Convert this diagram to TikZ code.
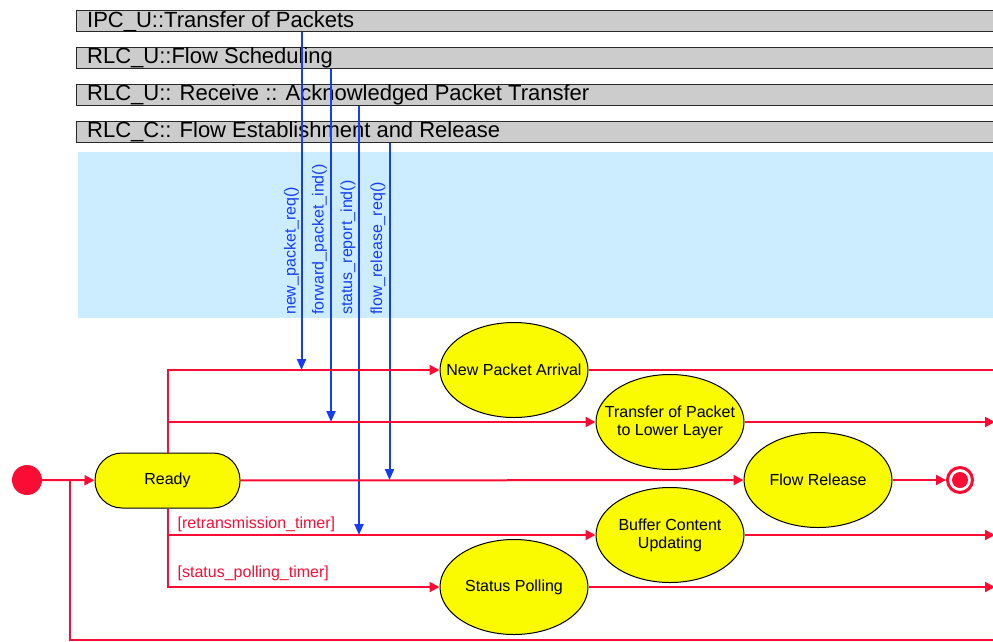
\documentclass[tikz,border=0pt]{standalone}
\usepackage{fontspec}
\setmainfont{Liberation Sans}
\usetikzlibrary{shapes.geometric,arrows.meta}
\definecolor{umlred}{RGB}{250,12,52}
\definecolor{sigblue}{RGB}{22,62,240}
\definecolor{bargray}{RGB}{204,204,204}
\definecolor{barline}{RGB}{40,40,40}
\definecolor{regionblue}{RGB}{204,236,255}
\definecolor{stateyellow}{RGB}{250,250,0}

\begin{document}
\begin{tikzpicture}[x=1pt,y=-1pt,
  bar/.style={draw=barline, line width=1.4pt, fill=bargray, minimum width=940pt,
    minimum height=21.5pt, inner sep=0pt, anchor=north west},
  bartitle/.style={anchor=base west, inner sep=0pt, font=\fontsize{22}{24}\selectfont},
  statetext/.style={inner sep=0pt, align=center, font=\fontsize{16}{18}\selectfont},
  stateell/.style={ellipse, draw=black, line width=1pt, fill=stateyellow,
    minimum width=148pt, minimum height=95pt, inner sep=0pt},
  readybox/.style={rectangle, rounded corners=27pt, draw=black, line width=1pt,
    fill=stateyellow, minimum width=145pt, minimum height=55pt, inner sep=0pt,
    font=\fontsize{16}{18}\selectfont},
  trans/.style={draw=umlred, line width=2pt},
  tarrow/.style={trans, -{Triangle[length=10pt,width=10pt]}},
  signal/.style={draw=sigblue, line width=2pt, -{Triangle[length=11pt,width=9pt]}},
  siglabel/.style={rotate=90, anchor=west, inner sep=0pt, text=sigblue,
    font=\fontsize{16}{18}\selectfont},
  guard/.style={anchor=base west, inner sep=0pt, text=umlred,
    font=\fontsize{16}{18}\selectfont}]

\useasboundingbox (0,0) rectangle (993,641);

% environment region
\fill[regionblue] (78,152) rectangle (1000,318);

% swimlane bars of the communicating processes
\node[bar] (ipc) at (76,9.5) {};
\node[bar] (rfs) at (76,46.5) {};
\node[bar] (ack) at (76,83.5) {};
\node[bar] (fer) at (76,120.5) {};
\node[bartitle] (ipct) at (87,27.5) {IPC\_U::Transfer of Packets};
\node[bartitle] (rfst) at (87,63) {RLC\_U::Flow Scheduling};
\node[bartitle] (ackt) at (87,100.5) {RLC\_U:: Receive :: Acknowledged Packet Transfer};
\node[bartitle] (fert) at (87,137.5) {RLC\_C:: Flow Establishment and Release};

% states
\node[circle, fill=umlred, minimum size=30pt, inner sep=0pt] (init) at (27,480) {};
\node[readybox] (ready) at (167.5,480.5) {Ready};
\node[stateell, label={[statetext]center:New Packet Arrival}] (npa) at (514,370) {};
\node[stateell, label={[statetext]center:Transfer of Packet\\to Lower Layer}] (tpl) at (670,422) {};
\node[stateell, label={[statetext]center:Flow Release}] (fr) at (818,480) {};
\node[stateell, label={[statetext]center:Buffer Content\\Updating}] (bcu) at (670,535) {};
\node[stateell, label={[statetext]center:Status Polling}] (sp) at (514,587) {};
\node[circle, draw=umlred, line width=3pt, fill=white, minimum size=25pt, inner sep=0pt,
  path picture={\fill[umlred] (path picture bounding box.center) circle (8pt);}]
  (final) at (960,480) {};

% signal columns
\coordinate (s1) at (301.5,0);
\coordinate (s2) at (331,0);
\coordinate (s3) at (359,0);
\coordinate (s4) at (389.5,0);
\draw[signal] (ipc.south -| s1) -- (npa.west -| s1);
\draw[signal] (rfs.south -| s2) -- (tpl.west -| s2);
\draw[signal] (ack.south -| s3) -- (bcu.west -| s3);
\draw[signal] (fer.south -| s4) -- (fr.west -| s4);
\node[siglabel] (l1) at (291.5,315) {new\_packet\_req()};
\node[siglabel] (l2) at (319.5,315) {forward\_packet\_ind()};
\node[siglabel] (l3) at (348,315) {status\_report\_ind()};
\node[siglabel] (l4) at (378,315) {flow\_release\_req()};

% transitions
\coordinate (junc) at (70,480);
\coordinate (loopend) at (1000,640);
\coordinate (outA) at (1000,370);
\coordinate (outB) at (995,422);
\coordinate (outC) at (995,535);
\coordinate (outD) at (995,587);
\draw[trans] (loopend) -| (junc);
\draw[tarrow] (init) -- (ready);
\draw[tarrow] (ready.north) |- (npa.west);
\draw[tarrow] (ready.north |- tpl.west) -- (tpl.west);
\draw[tarrow] (ready.south) |- (sp.west);
\draw[tarrow] (ready.south |- bcu.west) -- (bcu.west);
\draw[tarrow] (ready) -- (fr);
\draw[tarrow] (fr) -- (final);
\draw[trans] (npa.east) -- (outA);
\draw[tarrow] (tpl.east) -- (outB);
\draw[tarrow] (bcu.east) -- (outC);
\draw[tarrow] (sp.east) -- (outD);

% guards
\node[guard] (g1) at (177.5,528) {[retransmission\_timer]};
\node[guard] (g2) at (177.5,577) {[status\_polling\_timer]};

\end{tikzpicture}
\end{document}
